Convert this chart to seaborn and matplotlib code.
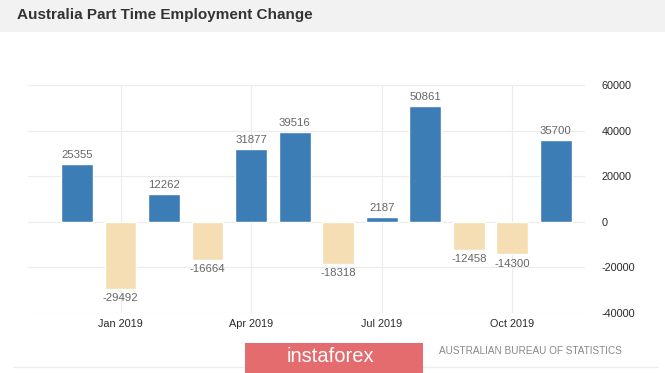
import matplotlib
matplotlib.use("Agg")
import matplotlib.pyplot as plt
import matplotlib.patches as mpatches
import seaborn as sns
import pandas as pd

# data (Dec 2018 .. Nov 2019)
months = ["Dec 2018", "Jan 2019", "Feb 2019", "Mar 2019", "Apr 2019", "May 2019",
          "Jun 2019", "Jul 2019", "Aug 2019", "Sep 2019", "Oct 2019", "Nov 2019"]
values = [25355, -29492, 12262, -16664, 31877, 39516, -18318, 2187, 50861, -12458, -14300, 35700]
tick_months = ["Jan 2019", "Apr 2019", "Jul 2019", "Oct 2019"]
y_ticks = [-40000, -20000, 0, 20000, 40000, 60000]

df = pd.DataFrame({"month": months, "value": values})
df["sign"] = ["pos" if v >= 0 else "neg" for v in values]

sns.set_style("white")
plt.rcParams["font.family"] = ["Liberation Sans", "DejaVu Sans"]

W, H = 665, 373
fig = plt.figure(figsize=(W / 100, H / 100), dpi=100, facecolor="white")

# title band
fig.patches.append(mpatches.Rectangle((0, 1 - 32 / H), 1, 32 / H, transform=fig.transFigure,
                                      facecolor="#f2f2f2", edgecolor="none", zorder=0))
fig.text(17 / W, 1 - 15.5 / H, "Australia Part Time Employment Change", fontsize=11,
         fontweight="bold", color="#333333", va="center", ha="left")
# card bottom line
fig.lines.append(plt.Line2D([13 / W, 658 / W], [1 - 367 / H, 1 - 367 / H], transform=fig.transFigure,
                            color="#eeeeee", lw=1))

ax = fig.add_axes([28 / W, 1 - 313 / H, (585 - 28) / W, (313 - 85) / H])
sns.barplot(data=df, x="month", y="value", hue="sign", palette={"pos": "#3d7db6", "neg": "#f5deb3"},
            saturation=1, dodge=False, width=0.73, legend=False, ax=ax, zorder=3)

for i, v in enumerate(values):
    if v >= 0:
        ax.annotate(str(v), (i, v), xytext=(0, 3), textcoords="offset points", ha="center", va="bottom",
                    fontsize=8.2, color="#666666")
    else:
        ax.annotate(str(v), (i, v), xytext=(0, -3), textcoords="offset points", ha="center", va="top",
                    fontsize=8.2, color="#666666")

ax.set_ylim(-40000, 60000)
ax.set_xlim(-1.125, 11.67)
ax.set_yticks(y_ticks)
ax.set_yticklabels([str(t) for t in y_ticks], fontsize=7.8, color="#2a2a2a")
ax.yaxis.tick_right()
ax.tick_params(axis="y", length=0, pad=12)
ax.set_xticks([months.index(m) for m in tick_months])
ax.set_xticklabels(tick_months, fontsize=7.8, color="#2a2a2a")
ax.tick_params(axis="x", length=0, pad=4)
ax.grid(True, color="#ececec", lw=0.8, zorder=0)
ax.set_xlabel("")
ax.set_ylabel("")
for s in ax.spines.values():
    s.set_visible(False)

# watermark + source
fig.patches.append(mpatches.Rectangle((245 / W, 0), (423 - 245) / W, (H - 343) / H, transform=fig.transFigure,
                                      facecolor="#e46b6e", edgecolor="none", zorder=5))
fig.text(330 / W, 1 - 357 / H, "instaforex", fontsize=14.5, color="white", ha="center", va="center", zorder=6)
fig.text(622 / W, 1 - 351 / H, "AUSTRALIAN BUREAU OF STATISTICS", fontsize=7.2, color="#888888",
         ha="right", va="center")

fig.savefig("out.png", dpi=100, facecolor="white")
